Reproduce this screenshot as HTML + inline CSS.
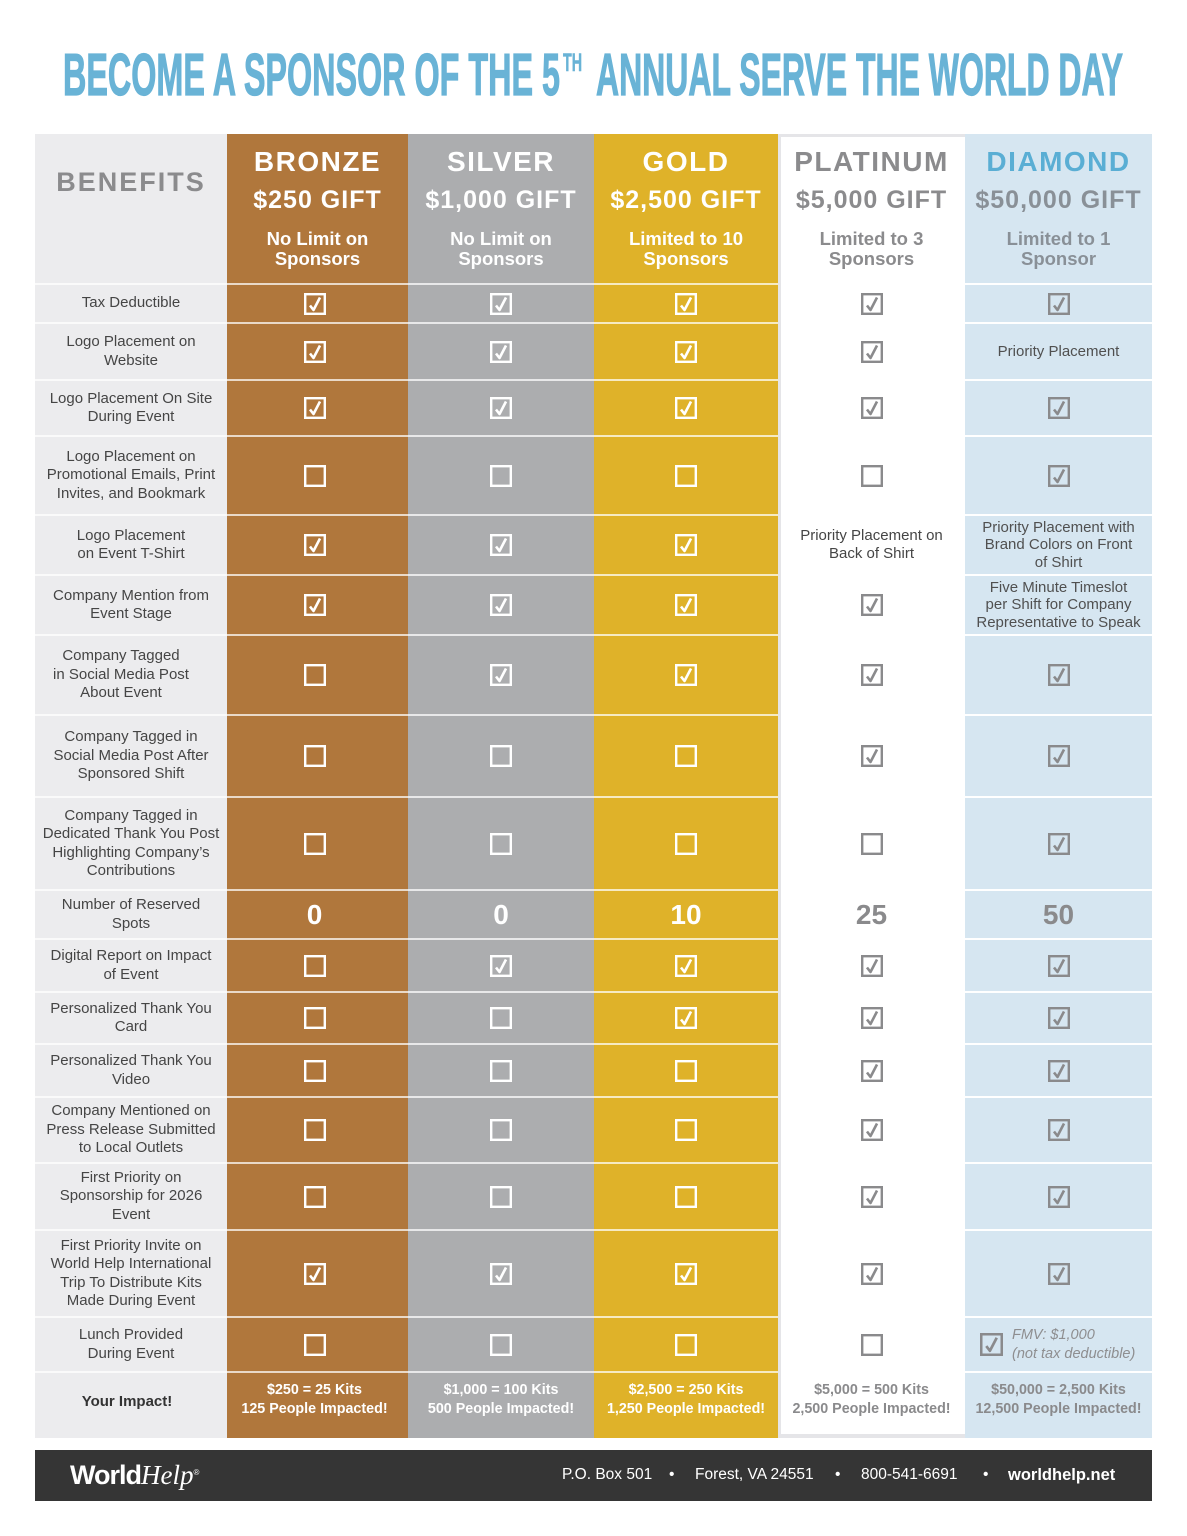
<!DOCTYPE html>
<html><head><meta charset="utf-8">
<style>
*{margin:0;padding:0;box-sizing:border-box}
body{width:1187px;height:1536px;background:#fff;position:relative;overflow:hidden;font-family:"Liberation Sans",Arial,sans-serif}
.colbg{position:absolute;top:134px;height:1304px}
.r{position:absolute;left:35px;width:1117px;display:flex}
.c{display:flex;align-items:center;justify-content:center;text-align:center;border-top:2px solid rgba(255,255,255,.72);height:100%}
.c:nth-child(1){width:192px;color:#454545;font-size:15px;line-height:18.5px}
.c:nth-child(2){width:181px;color:#fff;padding-right:6px}
.c:nth-child(3){width:186px;color:#fff}
.c:nth-child(4){width:184px;color:#fff}
.c:nth-child(5){width:187px;color:#8a8a8c;border-top:none;padding-top:2px}
.c:nth-child(6){width:187px;color:#8a8a8c;border-top-color:#fff}
.r .c.t{color:#505050;font-size:15px;line-height:17.5px}
.num{font-weight:bold;font-size:28px}
.imp{font-weight:bold;font-size:14.3px;line-height:18.5px;padding-bottom:12px}
.h{position:absolute;text-align:center;font-weight:bold;white-space:nowrap}
.h1{top:146px;height:32px;line-height:32px;font-size:28px;letter-spacing:1.5px}
.h2{top:185px;height:30px;line-height:30px;font-size:25px;letter-spacing:1px}
.h3{top:229px;line-height:20px;font-size:18.5px}
svg.cb{display:block}
.ft{position:absolute;top:1464px;color:#fff;font-size:15.5px;line-height:22px;white-space:nowrap}
</style></head><body>

<svg width="1187" height="130" style="position:absolute;left:0;top:0">
<g font-family="Liberation Sans Narrow, Liberation Sans, sans-serif" font-weight="bold" fill="#69b3d6" stroke="#69b3d6" stroke-width="1.2">
<text x="63" y="95" font-size="59" textLength="497" lengthAdjust="spacingAndGlyphs">BECOME A SPONSOR OF THE 5</text>
<text x="563" y="71" font-size="25" textLength="19" lengthAdjust="spacingAndGlyphs" stroke-width="0.6">TH</text>
<text x="596" y="95" font-size="59" textLength="527" lengthAdjust="spacingAndGlyphs">ANNUAL SERVE THE WORLD DAY</text>
</g></svg>

<!-- column backgrounds -->
<div class="colbg" style="left:35px;width:192px;background:#ececee"></div>
<div class="colbg" style="left:227px;width:181px;background:#b0773c"></div>
<div class="colbg" style="left:408px;width:186px;background:#acadaf"></div>
<div class="colbg" style="left:594px;width:184px;background:#dfb229"></div>
<div class="colbg" style="left:778px;width:187px;background:#e5e5e8"></div>
<div style="position:absolute;left:781px;top:137px;width:184px;height:1297px;background:#fff"></div>
<div class="colbg" style="left:965px;width:187px;background:#d6e6f1"></div>

<!-- headers -->
<div class="h" style="left:35px;width:192px;top:166px;line-height:32px;font-size:27px;letter-spacing:2px;color:#8b8b8d">BENEFITS</div>

<div class="h h1" style="left:227px;width:181px;color:#fff">BRONZE</div>
<div class="h h2" style="left:227px;width:181px;color:#fff">$250 GIFT</div>
<div class="h h3" style="left:227px;width:181px;color:#fff">No Limit on<br>Sponsors</div>

<div class="h h1" style="left:408px;width:186px;color:#fff">SILVER</div>
<div class="h h2" style="left:408px;width:186px;color:#fff">$1,000 GIFT</div>
<div class="h h3" style="left:408px;width:186px;color:#fff">No Limit on<br>Sponsors</div>

<div class="h h1" style="left:594px;width:184px;color:#fff">GOLD</div>
<div class="h h2" style="left:594px;width:184px;color:#fff">$2,500 GIFT</div>
<div class="h h3" style="left:594px;width:184px;color:#fff">Limited to 10<br>Sponsors</div>

<div class="h h1" style="left:778px;width:187px;color:#8b8b8d">PLATINUM</div>
<div class="h h2" style="left:778px;width:187px;color:#8b8b8d">$5,000 GIFT</div>
<div class="h h3" style="left:778px;width:187px;color:#8b8b8d">Limited to 3<br>Sponsors</div>

<div class="h h1" style="left:965px;width:187px;color:#5aaed4">DIAMOND</div>
<div class="h h2" style="left:965px;width:187px;color:#899097">$50,000 GIFT</div>
<div class="h h3" style="left:965px;width:187px;color:#899097">Limited to 1<br>Sponsor</div>

<!-- rows -->
<div class="r" style="top:283px;height:39px">
<div class="c">Tax Deductible</div>
<div class="c"><svg class="cb" width="22" height="22" viewBox="0 0 22 22"><rect x="1.2" y="1.2" width="19.6" height="19.6" fill="none" stroke="currentColor" stroke-width="2.4"/><path d="M6 12.5L9.5 17L16 4.5" fill="none" stroke="currentColor" stroke-width="2.6" stroke-linejoin="round"/></svg></div>
<div class="c"><svg class="cb" width="22" height="22" viewBox="0 0 22 22"><rect x="1.2" y="1.2" width="19.6" height="19.6" fill="none" stroke="currentColor" stroke-width="2.4"/><path d="M6 12.5L9.5 17L16 4.5" fill="none" stroke="currentColor" stroke-width="2.6" stroke-linejoin="round"/></svg></div>
<div class="c"><svg class="cb" width="22" height="22" viewBox="0 0 22 22"><rect x="1.2" y="1.2" width="19.6" height="19.6" fill="none" stroke="currentColor" stroke-width="2.4"/><path d="M6 12.5L9.5 17L16 4.5" fill="none" stroke="currentColor" stroke-width="2.6" stroke-linejoin="round"/></svg></div>
<div class="c"><svg class="cb" width="22" height="22" viewBox="0 0 22 22"><rect x="1.2" y="1.2" width="19.6" height="19.6" fill="none" stroke="currentColor" stroke-width="2.4"/><path d="M6 12.5L9.5 17L16 4.5" fill="none" stroke="currentColor" stroke-width="2.6" stroke-linejoin="round"/></svg></div>
<div class="c"><svg class="cb" width="22" height="22" viewBox="0 0 22 22"><rect x="1.2" y="1.2" width="19.6" height="19.6" fill="none" stroke="currentColor" stroke-width="2.4"/><path d="M6 12.5L9.5 17L16 4.5" fill="none" stroke="currentColor" stroke-width="2.6" stroke-linejoin="round"/></svg></div>
</div>

<div class="r" style="top:322px;height:57px">
<div class="c">Logo Placement on<br>Website</div>
<div class="c"><svg class="cb" width="22" height="22" viewBox="0 0 22 22"><rect x="1.2" y="1.2" width="19.6" height="19.6" fill="none" stroke="currentColor" stroke-width="2.4"/><path d="M6 12.5L9.5 17L16 4.5" fill="none" stroke="currentColor" stroke-width="2.6" stroke-linejoin="round"/></svg></div>
<div class="c"><svg class="cb" width="22" height="22" viewBox="0 0 22 22"><rect x="1.2" y="1.2" width="19.6" height="19.6" fill="none" stroke="currentColor" stroke-width="2.4"/><path d="M6 12.5L9.5 17L16 4.5" fill="none" stroke="currentColor" stroke-width="2.6" stroke-linejoin="round"/></svg></div>
<div class="c"><svg class="cb" width="22" height="22" viewBox="0 0 22 22"><rect x="1.2" y="1.2" width="19.6" height="19.6" fill="none" stroke="currentColor" stroke-width="2.4"/><path d="M6 12.5L9.5 17L16 4.5" fill="none" stroke="currentColor" stroke-width="2.6" stroke-linejoin="round"/></svg></div>
<div class="c"><svg class="cb" width="22" height="22" viewBox="0 0 22 22"><rect x="1.2" y="1.2" width="19.6" height="19.6" fill="none" stroke="currentColor" stroke-width="2.4"/><path d="M6 12.5L9.5 17L16 4.5" fill="none" stroke="currentColor" stroke-width="2.6" stroke-linejoin="round"/></svg></div>
<div class="c t">Priority Placement</div>
</div>

<div class="r" style="top:379px;height:56px">
<div class="c">Logo Placement On Site<br>During Event</div>
<div class="c"><svg class="cb" width="22" height="22" viewBox="0 0 22 22"><rect x="1.2" y="1.2" width="19.6" height="19.6" fill="none" stroke="currentColor" stroke-width="2.4"/><path d="M6 12.5L9.5 17L16 4.5" fill="none" stroke="currentColor" stroke-width="2.6" stroke-linejoin="round"/></svg></div>
<div class="c"><svg class="cb" width="22" height="22" viewBox="0 0 22 22"><rect x="1.2" y="1.2" width="19.6" height="19.6" fill="none" stroke="currentColor" stroke-width="2.4"/><path d="M6 12.5L9.5 17L16 4.5" fill="none" stroke="currentColor" stroke-width="2.6" stroke-linejoin="round"/></svg></div>
<div class="c"><svg class="cb" width="22" height="22" viewBox="0 0 22 22"><rect x="1.2" y="1.2" width="19.6" height="19.6" fill="none" stroke="currentColor" stroke-width="2.4"/><path d="M6 12.5L9.5 17L16 4.5" fill="none" stroke="currentColor" stroke-width="2.6" stroke-linejoin="round"/></svg></div>
<div class="c"><svg class="cb" width="22" height="22" viewBox="0 0 22 22"><rect x="1.2" y="1.2" width="19.6" height="19.6" fill="none" stroke="currentColor" stroke-width="2.4"/><path d="M6 12.5L9.5 17L16 4.5" fill="none" stroke="currentColor" stroke-width="2.6" stroke-linejoin="round"/></svg></div>
<div class="c"><svg class="cb" width="22" height="22" viewBox="0 0 22 22"><rect x="1.2" y="1.2" width="19.6" height="19.6" fill="none" stroke="currentColor" stroke-width="2.4"/><path d="M6 12.5L9.5 17L16 4.5" fill="none" stroke="currentColor" stroke-width="2.6" stroke-linejoin="round"/></svg></div>
</div>

<div class="r" style="top:435px;height:79px">
<div class="c">Logo Placement on<br>Promotional Emails, Print<br>Invites, and Bookmark</div>
<div class="c"><svg class="cb" width="22" height="22" viewBox="0 0 22 22"><rect x="1.2" y="1.2" width="19.6" height="19.6" fill="none" stroke="currentColor" stroke-width="2.4"/></svg></div>
<div class="c"><svg class="cb" width="22" height="22" viewBox="0 0 22 22"><rect x="1.2" y="1.2" width="19.6" height="19.6" fill="none" stroke="currentColor" stroke-width="2.4"/></svg></div>
<div class="c"><svg class="cb" width="22" height="22" viewBox="0 0 22 22"><rect x="1.2" y="1.2" width="19.6" height="19.6" fill="none" stroke="currentColor" stroke-width="2.4"/></svg></div>
<div class="c"><svg class="cb" width="22" height="22" viewBox="0 0 22 22"><rect x="1.2" y="1.2" width="19.6" height="19.6" fill="none" stroke="currentColor" stroke-width="2.4"/></svg></div>
<div class="c"><svg class="cb" width="22" height="22" viewBox="0 0 22 22"><rect x="1.2" y="1.2" width="19.6" height="19.6" fill="none" stroke="currentColor" stroke-width="2.4"/><path d="M6 12.5L9.5 17L16 4.5" fill="none" stroke="currentColor" stroke-width="2.6" stroke-linejoin="round"/></svg></div>
</div>

<div class="r" style="top:514px;height:60px">
<div class="c">Logo Placement<br>on Event T-Shirt</div>
<div class="c"><svg class="cb" width="22" height="22" viewBox="0 0 22 22"><rect x="1.2" y="1.2" width="19.6" height="19.6" fill="none" stroke="currentColor" stroke-width="2.4"/><path d="M6 12.5L9.5 17L16 4.5" fill="none" stroke="currentColor" stroke-width="2.6" stroke-linejoin="round"/></svg></div>
<div class="c"><svg class="cb" width="22" height="22" viewBox="0 0 22 22"><rect x="1.2" y="1.2" width="19.6" height="19.6" fill="none" stroke="currentColor" stroke-width="2.4"/><path d="M6 12.5L9.5 17L16 4.5" fill="none" stroke="currentColor" stroke-width="2.6" stroke-linejoin="round"/></svg></div>
<div class="c"><svg class="cb" width="22" height="22" viewBox="0 0 22 22"><rect x="1.2" y="1.2" width="19.6" height="19.6" fill="none" stroke="currentColor" stroke-width="2.4"/><path d="M6 12.5L9.5 17L16 4.5" fill="none" stroke="currentColor" stroke-width="2.6" stroke-linejoin="round"/></svg></div>
<div class="c t" style="color:#454545;padding-bottom:0;line-height:18.5px">Priority Placement on<br>Back of Shirt</div>
<div class="c t">Priority Placement with<br>Brand Colors on Front<br>of Shirt</div>
</div>

<div class="r" style="top:574px;height:60px">
<div class="c">Company Mention from<br>Event Stage</div>
<div class="c"><svg class="cb" width="22" height="22" viewBox="0 0 22 22"><rect x="1.2" y="1.2" width="19.6" height="19.6" fill="none" stroke="currentColor" stroke-width="2.4"/><path d="M6 12.5L9.5 17L16 4.5" fill="none" stroke="currentColor" stroke-width="2.6" stroke-linejoin="round"/></svg></div>
<div class="c"><svg class="cb" width="22" height="22" viewBox="0 0 22 22"><rect x="1.2" y="1.2" width="19.6" height="19.6" fill="none" stroke="currentColor" stroke-width="2.4"/><path d="M6 12.5L9.5 17L16 4.5" fill="none" stroke="currentColor" stroke-width="2.6" stroke-linejoin="round"/></svg></div>
<div class="c"><svg class="cb" width="22" height="22" viewBox="0 0 22 22"><rect x="1.2" y="1.2" width="19.6" height="19.6" fill="none" stroke="currentColor" stroke-width="2.4"/><path d="M6 12.5L9.5 17L16 4.5" fill="none" stroke="currentColor" stroke-width="2.6" stroke-linejoin="round"/></svg></div>
<div class="c"><svg class="cb" width="22" height="22" viewBox="0 0 22 22"><rect x="1.2" y="1.2" width="19.6" height="19.6" fill="none" stroke="currentColor" stroke-width="2.4"/><path d="M6 12.5L9.5 17L16 4.5" fill="none" stroke="currentColor" stroke-width="2.6" stroke-linejoin="round"/></svg></div>
<div class="c t">Five Minute Timeslot<br>per Shift for Company<br>Representative to Speak</div>
</div>

<div class="r" style="top:634px;height:80px">
<div class="c" style="padding-right:20px">Company Tagged<br>in Social Media Post<br>About Event</div>
<div class="c"><svg class="cb" width="22" height="22" viewBox="0 0 22 22"><rect x="1.2" y="1.2" width="19.6" height="19.6" fill="none" stroke="currentColor" stroke-width="2.4"/></svg></div>
<div class="c"><svg class="cb" width="22" height="22" viewBox="0 0 22 22"><rect x="1.2" y="1.2" width="19.6" height="19.6" fill="none" stroke="currentColor" stroke-width="2.4"/><path d="M6 12.5L9.5 17L16 4.5" fill="none" stroke="currentColor" stroke-width="2.6" stroke-linejoin="round"/></svg></div>
<div class="c"><svg class="cb" width="22" height="22" viewBox="0 0 22 22"><rect x="1.2" y="1.2" width="19.6" height="19.6" fill="none" stroke="currentColor" stroke-width="2.4"/><path d="M6 12.5L9.5 17L16 4.5" fill="none" stroke="currentColor" stroke-width="2.6" stroke-linejoin="round"/></svg></div>
<div class="c"><svg class="cb" width="22" height="22" viewBox="0 0 22 22"><rect x="1.2" y="1.2" width="19.6" height="19.6" fill="none" stroke="currentColor" stroke-width="2.4"/><path d="M6 12.5L9.5 17L16 4.5" fill="none" stroke="currentColor" stroke-width="2.6" stroke-linejoin="round"/></svg></div>
<div class="c"><svg class="cb" width="22" height="22" viewBox="0 0 22 22"><rect x="1.2" y="1.2" width="19.6" height="19.6" fill="none" stroke="currentColor" stroke-width="2.4"/><path d="M6 12.5L9.5 17L16 4.5" fill="none" stroke="currentColor" stroke-width="2.6" stroke-linejoin="round"/></svg></div>
</div>

<div class="r" style="top:714px;height:82px">
<div class="c">Company Tagged in<br>Social Media Post After<br>Sponsored Shift</div>
<div class="c"><svg class="cb" width="22" height="22" viewBox="0 0 22 22"><rect x="1.2" y="1.2" width="19.6" height="19.6" fill="none" stroke="currentColor" stroke-width="2.4"/></svg></div>
<div class="c"><svg class="cb" width="22" height="22" viewBox="0 0 22 22"><rect x="1.2" y="1.2" width="19.6" height="19.6" fill="none" stroke="currentColor" stroke-width="2.4"/></svg></div>
<div class="c"><svg class="cb" width="22" height="22" viewBox="0 0 22 22"><rect x="1.2" y="1.2" width="19.6" height="19.6" fill="none" stroke="currentColor" stroke-width="2.4"/></svg></div>
<div class="c"><svg class="cb" width="22" height="22" viewBox="0 0 22 22"><rect x="1.2" y="1.2" width="19.6" height="19.6" fill="none" stroke="currentColor" stroke-width="2.4"/><path d="M6 12.5L9.5 17L16 4.5" fill="none" stroke="currentColor" stroke-width="2.6" stroke-linejoin="round"/></svg></div>
<div class="c"><svg class="cb" width="22" height="22" viewBox="0 0 22 22"><rect x="1.2" y="1.2" width="19.6" height="19.6" fill="none" stroke="currentColor" stroke-width="2.4"/><path d="M6 12.5L9.5 17L16 4.5" fill="none" stroke="currentColor" stroke-width="2.6" stroke-linejoin="round"/></svg></div>
</div>

<div class="r" style="top:796px;height:93px">
<div class="c">Company Tagged in<br>Dedicated Thank You Post<br>Highlighting Company’s<br>Contributions</div>
<div class="c"><svg class="cb" width="22" height="22" viewBox="0 0 22 22"><rect x="1.2" y="1.2" width="19.6" height="19.6" fill="none" stroke="currentColor" stroke-width="2.4"/></svg></div>
<div class="c"><svg class="cb" width="22" height="22" viewBox="0 0 22 22"><rect x="1.2" y="1.2" width="19.6" height="19.6" fill="none" stroke="currentColor" stroke-width="2.4"/></svg></div>
<div class="c"><svg class="cb" width="22" height="22" viewBox="0 0 22 22"><rect x="1.2" y="1.2" width="19.6" height="19.6" fill="none" stroke="currentColor" stroke-width="2.4"/></svg></div>
<div class="c"><svg class="cb" width="22" height="22" viewBox="0 0 22 22"><rect x="1.2" y="1.2" width="19.6" height="19.6" fill="none" stroke="currentColor" stroke-width="2.4"/></svg></div>
<div class="c"><svg class="cb" width="22" height="22" viewBox="0 0 22 22"><rect x="1.2" y="1.2" width="19.6" height="19.6" fill="none" stroke="currentColor" stroke-width="2.4"/><path d="M6 12.5L9.5 17L16 4.5" fill="none" stroke="currentColor" stroke-width="2.6" stroke-linejoin="round"/></svg></div>
</div>

<div class="r" style="top:889px;height:49px">
<div class="c">Number of Reserved<br>Spots</div>
<div class="c num">0</div>
<div class="c num">0</div>
<div class="c num">10</div>
<div class="c num">25</div>
<div class="c num">50</div>
</div>

<div class="r" style="top:938px;height:53px">
<div class="c">Digital Report on Impact<br>of Event</div>
<div class="c"><svg class="cb" width="22" height="22" viewBox="0 0 22 22"><rect x="1.2" y="1.2" width="19.6" height="19.6" fill="none" stroke="currentColor" stroke-width="2.4"/></svg></div>
<div class="c"><svg class="cb" width="22" height="22" viewBox="0 0 22 22"><rect x="1.2" y="1.2" width="19.6" height="19.6" fill="none" stroke="currentColor" stroke-width="2.4"/><path d="M6 12.5L9.5 17L16 4.5" fill="none" stroke="currentColor" stroke-width="2.6" stroke-linejoin="round"/></svg></div>
<div class="c"><svg class="cb" width="22" height="22" viewBox="0 0 22 22"><rect x="1.2" y="1.2" width="19.6" height="19.6" fill="none" stroke="currentColor" stroke-width="2.4"/><path d="M6 12.5L9.5 17L16 4.5" fill="none" stroke="currentColor" stroke-width="2.6" stroke-linejoin="round"/></svg></div>
<div class="c"><svg class="cb" width="22" height="22" viewBox="0 0 22 22"><rect x="1.2" y="1.2" width="19.6" height="19.6" fill="none" stroke="currentColor" stroke-width="2.4"/><path d="M6 12.5L9.5 17L16 4.5" fill="none" stroke="currentColor" stroke-width="2.6" stroke-linejoin="round"/></svg></div>
<div class="c"><svg class="cb" width="22" height="22" viewBox="0 0 22 22"><rect x="1.2" y="1.2" width="19.6" height="19.6" fill="none" stroke="currentColor" stroke-width="2.4"/><path d="M6 12.5L9.5 17L16 4.5" fill="none" stroke="currentColor" stroke-width="2.6" stroke-linejoin="round"/></svg></div>
</div>

<div class="r" style="top:991px;height:52px">
<div class="c">Personalized Thank You<br>Card</div>
<div class="c"><svg class="cb" width="22" height="22" viewBox="0 0 22 22"><rect x="1.2" y="1.2" width="19.6" height="19.6" fill="none" stroke="currentColor" stroke-width="2.4"/></svg></div>
<div class="c"><svg class="cb" width="22" height="22" viewBox="0 0 22 22"><rect x="1.2" y="1.2" width="19.6" height="19.6" fill="none" stroke="currentColor" stroke-width="2.4"/></svg></div>
<div class="c"><svg class="cb" width="22" height="22" viewBox="0 0 22 22"><rect x="1.2" y="1.2" width="19.6" height="19.6" fill="none" stroke="currentColor" stroke-width="2.4"/><path d="M6 12.5L9.5 17L16 4.5" fill="none" stroke="currentColor" stroke-width="2.6" stroke-linejoin="round"/></svg></div>
<div class="c"><svg class="cb" width="22" height="22" viewBox="0 0 22 22"><rect x="1.2" y="1.2" width="19.6" height="19.6" fill="none" stroke="currentColor" stroke-width="2.4"/><path d="M6 12.5L9.5 17L16 4.5" fill="none" stroke="currentColor" stroke-width="2.6" stroke-linejoin="round"/></svg></div>
<div class="c"><svg class="cb" width="22" height="22" viewBox="0 0 22 22"><rect x="1.2" y="1.2" width="19.6" height="19.6" fill="none" stroke="currentColor" stroke-width="2.4"/><path d="M6 12.5L9.5 17L16 4.5" fill="none" stroke="currentColor" stroke-width="2.6" stroke-linejoin="round"/></svg></div>
</div>

<div class="r" style="top:1043px;height:53px">
<div class="c">Personalized Thank You<br>Video</div>
<div class="c"><svg class="cb" width="22" height="22" viewBox="0 0 22 22"><rect x="1.2" y="1.2" width="19.6" height="19.6" fill="none" stroke="currentColor" stroke-width="2.4"/></svg></div>
<div class="c"><svg class="cb" width="22" height="22" viewBox="0 0 22 22"><rect x="1.2" y="1.2" width="19.6" height="19.6" fill="none" stroke="currentColor" stroke-width="2.4"/></svg></div>
<div class="c"><svg class="cb" width="22" height="22" viewBox="0 0 22 22"><rect x="1.2" y="1.2" width="19.6" height="19.6" fill="none" stroke="currentColor" stroke-width="2.4"/></svg></div>
<div class="c"><svg class="cb" width="22" height="22" viewBox="0 0 22 22"><rect x="1.2" y="1.2" width="19.6" height="19.6" fill="none" stroke="currentColor" stroke-width="2.4"/><path d="M6 12.5L9.5 17L16 4.5" fill="none" stroke="currentColor" stroke-width="2.6" stroke-linejoin="round"/></svg></div>
<div class="c"><svg class="cb" width="22" height="22" viewBox="0 0 22 22"><rect x="1.2" y="1.2" width="19.6" height="19.6" fill="none" stroke="currentColor" stroke-width="2.4"/><path d="M6 12.5L9.5 17L16 4.5" fill="none" stroke="currentColor" stroke-width="2.6" stroke-linejoin="round"/></svg></div>
</div>

<div class="r" style="top:1096px;height:66px">
<div class="c">Company Mentioned on<br>Press Release Submitted<br>to Local Outlets</div>
<div class="c"><svg class="cb" width="22" height="22" viewBox="0 0 22 22"><rect x="1.2" y="1.2" width="19.6" height="19.6" fill="none" stroke="currentColor" stroke-width="2.4"/></svg></div>
<div class="c"><svg class="cb" width="22" height="22" viewBox="0 0 22 22"><rect x="1.2" y="1.2" width="19.6" height="19.6" fill="none" stroke="currentColor" stroke-width="2.4"/></svg></div>
<div class="c"><svg class="cb" width="22" height="22" viewBox="0 0 22 22"><rect x="1.2" y="1.2" width="19.6" height="19.6" fill="none" stroke="currentColor" stroke-width="2.4"/></svg></div>
<div class="c"><svg class="cb" width="22" height="22" viewBox="0 0 22 22"><rect x="1.2" y="1.2" width="19.6" height="19.6" fill="none" stroke="currentColor" stroke-width="2.4"/><path d="M6 12.5L9.5 17L16 4.5" fill="none" stroke="currentColor" stroke-width="2.6" stroke-linejoin="round"/></svg></div>
<div class="c"><svg class="cb" width="22" height="22" viewBox="0 0 22 22"><rect x="1.2" y="1.2" width="19.6" height="19.6" fill="none" stroke="currentColor" stroke-width="2.4"/><path d="M6 12.5L9.5 17L16 4.5" fill="none" stroke="currentColor" stroke-width="2.6" stroke-linejoin="round"/></svg></div>
</div>

<div class="r" style="top:1162px;height:67px">
<div class="c">First Priority on<br>Sponsorship for 2026<br>Event</div>
<div class="c"><svg class="cb" width="22" height="22" viewBox="0 0 22 22"><rect x="1.2" y="1.2" width="19.6" height="19.6" fill="none" stroke="currentColor" stroke-width="2.4"/></svg></div>
<div class="c"><svg class="cb" width="22" height="22" viewBox="0 0 22 22"><rect x="1.2" y="1.2" width="19.6" height="19.6" fill="none" stroke="currentColor" stroke-width="2.4"/></svg></div>
<div class="c"><svg class="cb" width="22" height="22" viewBox="0 0 22 22"><rect x="1.2" y="1.2" width="19.6" height="19.6" fill="none" stroke="currentColor" stroke-width="2.4"/></svg></div>
<div class="c"><svg class="cb" width="22" height="22" viewBox="0 0 22 22"><rect x="1.2" y="1.2" width="19.6" height="19.6" fill="none" stroke="currentColor" stroke-width="2.4"/><path d="M6 12.5L9.5 17L16 4.5" fill="none" stroke="currentColor" stroke-width="2.6" stroke-linejoin="round"/></svg></div>
<div class="c"><svg class="cb" width="22" height="22" viewBox="0 0 22 22"><rect x="1.2" y="1.2" width="19.6" height="19.6" fill="none" stroke="currentColor" stroke-width="2.4"/><path d="M6 12.5L9.5 17L16 4.5" fill="none" stroke="currentColor" stroke-width="2.6" stroke-linejoin="round"/></svg></div>
</div>

<div class="r" style="top:1229px;height:87px">
<div class="c">First Priority Invite on<br>World Help International<br>Trip To Distribute Kits<br>Made During Event</div>
<div class="c"><svg class="cb" width="22" height="22" viewBox="0 0 22 22"><rect x="1.2" y="1.2" width="19.6" height="19.6" fill="none" stroke="currentColor" stroke-width="2.4"/><path d="M6 12.5L9.5 17L16 4.5" fill="none" stroke="currentColor" stroke-width="2.6" stroke-linejoin="round"/></svg></div>
<div class="c"><svg class="cb" width="22" height="22" viewBox="0 0 22 22"><rect x="1.2" y="1.2" width="19.6" height="19.6" fill="none" stroke="currentColor" stroke-width="2.4"/><path d="M6 12.5L9.5 17L16 4.5" fill="none" stroke="currentColor" stroke-width="2.6" stroke-linejoin="round"/></svg></div>
<div class="c"><svg class="cb" width="22" height="22" viewBox="0 0 22 22"><rect x="1.2" y="1.2" width="19.6" height="19.6" fill="none" stroke="currentColor" stroke-width="2.4"/><path d="M6 12.5L9.5 17L16 4.5" fill="none" stroke="currentColor" stroke-width="2.6" stroke-linejoin="round"/></svg></div>
<div class="c"><svg class="cb" width="22" height="22" viewBox="0 0 22 22"><rect x="1.2" y="1.2" width="19.6" height="19.6" fill="none" stroke="currentColor" stroke-width="2.4"/><path d="M6 12.5L9.5 17L16 4.5" fill="none" stroke="currentColor" stroke-width="2.6" stroke-linejoin="round"/></svg></div>
<div class="c"><svg class="cb" width="22" height="22" viewBox="0 0 22 22"><rect x="1.2" y="1.2" width="19.6" height="19.6" fill="none" stroke="currentColor" stroke-width="2.4"/><path d="M6 12.5L9.5 17L16 4.5" fill="none" stroke="currentColor" stroke-width="2.6" stroke-linejoin="round"/></svg></div>
</div>

<div class="r" style="top:1316px;height:55px">
<div class="c">Lunch Provided<br>During Event</div>
<div class="c"><svg class="cb" width="22" height="22" viewBox="0 0 22 22"><rect x="1.2" y="1.2" width="19.6" height="19.6" fill="none" stroke="currentColor" stroke-width="2.4"/></svg></div>
<div class="c"><svg class="cb" width="22" height="22" viewBox="0 0 22 22"><rect x="1.2" y="1.2" width="19.6" height="19.6" fill="none" stroke="currentColor" stroke-width="2.4"/></svg></div>
<div class="c"><svg class="cb" width="22" height="22" viewBox="0 0 22 22"><rect x="1.2" y="1.2" width="19.6" height="19.6" fill="none" stroke="currentColor" stroke-width="2.4"/></svg></div>
<div class="c"><svg class="cb" width="22" height="22" viewBox="0 0 22 22"><rect x="1.2" y="1.2" width="19.6" height="19.6" fill="none" stroke="currentColor" stroke-width="2.4"/></svg></div>
<div class="c" style="justify-content:flex-start;padding-left:15px;gap:9px"><svg class="cb" width="23" height="23" viewBox="0 0 22 22"><rect x="1.2" y="1.2" width="19.6" height="19.6" fill="none" stroke="currentColor" stroke-width="2.4"/><path d="M6 12.5L9.5 17L16 4.5" fill="none" stroke="currentColor" stroke-width="2.6" stroke-linejoin="round"/></svg><span style="font-style:italic;font-size:14.5px;line-height:19px;text-align:left;color:#8e8e90">FMV: $1,000<br>(not tax deductible)</span></div>
</div>

<div class="r" style="top:1371px;height:67px">
<div class="c" style="font-weight:bold;color:#333;padding-bottom:6px;padding-right:8px">Your Impact!</div>
<div class="c imp">$250 = 25 Kits<br>125 People Impacted!</div>
<div class="c imp">$1,000 = 100 Kits<br>500 People Impacted!</div>
<div class="c imp">$2,500 = 250 Kits<br>1,250 People Impacted!</div>
<div class="c imp">$5,000 = 500 Kits<br>2,500 People Impacted!</div>
<div class="c imp">$50,000 = 2,500 Kits<br>12,500 People Impacted!</div>
</div>

<!-- footer -->
<div style="position:absolute;left:35px;top:1450px;width:1117px;height:51px;background:#353535"></div>
<div style="position:absolute;left:70px;top:1459px;color:#fff;white-space:nowrap;line-height:32px">
<span style="font-family:'Liberation Sans',sans-serif;font-weight:bold;font-size:27px;letter-spacing:-1px">World</span><span style="font-family:'Liberation Serif',serif;font-style:italic;font-size:27px">Help</span><sup style="font-size:8px;vertical-align:top;position:relative;top:-2px">®</sup>
</div>
<div class="ft" style="left:562px">P.O. Box 501</div>
<div class="ft" style="left:669px">•</div>
<div class="ft" style="left:695px">Forest, VA 24551</div>
<div class="ft" style="left:835px">•</div>
<div class="ft" style="left:861px">800-541-6691</div>
<div class="ft" style="left:983px">•</div>
<div class="ft" style="left:1008px;font-weight:bold;font-size:16.5px">worldhelp.net</div>

</body></html>
